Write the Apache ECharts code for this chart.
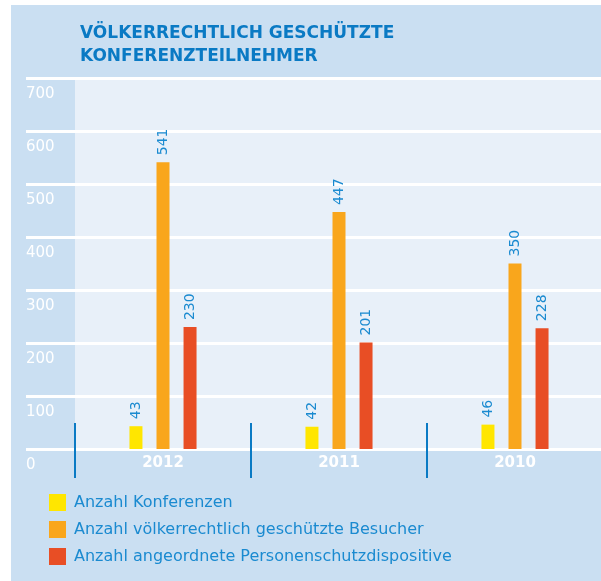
<!DOCTYPE html>
<html>
<head>
<meta charset="utf-8">
<script src="https://cdn.jsdelivr.net/npm/echarts@6/dist/echarts.min.js"></script>
<style>
  html, body { margin: 0; padding: 0; background: #fff; }
  #chart { width: 601px; height: 581px; }
</style>
</head>
<body>
<div id="chart"></div>
<script>
const years = ['2012', '2011', '2010']
const konferenzen = [43, 42, 46]
const besucher = [541, 447, 350]
const dispositive = [230, 201, 228]
const seriesNames = [
  'Anzahl Konferenzen',
  'Anzahl völkerrechtlich geschützte Besucher',
  'Anzahl angeordnete Personenschutzdispositive'
]
const yMin = 0
const yMax = 700
const yStep = 100

const FONT = 'DejaVu Sans'
const BLUE = '#0a7ac4'
const TEXT_BLUE = '#1a8ad0'

const chart = echarts.init(document.getElementById('chart'))

const barLabel = {
  show: true,
  position: 'top',
  rotate: 90,
  align: 'left',
  verticalAlign: 'middle',
  distance: 7,
  color: TEXT_BLUE,
  fontSize: 14,
  fontFamily: FONT
}

const makeBar = (name, data, color) => ({
  name,
  type: 'bar',
  xAxisIndex: 1,
  yAxisIndex: 1,
  data,
  barWidth: 13,
  barGap: '108%',
  itemStyle: { color },
  label: barLabel
})

const option = {
  backgroundColor: '#ffffff',
  animation: false,
  title: {
    text: 'VÖLKERRECHTLICH GESCHÜTZTE\nKONFERENZTEILNEHMER',
    left: 75,
    top: 17,
    textStyle: {
      fontFamily: FONT,
      fontSize: 17,
      fontWeight: 'bold',
      color: BLUE,
      lineHeight: 23
    }
  },
  // panel backgrounds
  graphic: [
    { type: 'rect', z: -2, shape: { x: 11, y: 5, width: 590, height: 576 }, style: { fill: '#cadff2' } },
    { type: 'rect', z: -1, shape: { x: 75, y: 78, width: 526, height: 371 }, style: { fill: '#e8f0f9' } }
  ],
  legend: {
    orient: 'vertical',
    left: 49,
    top: 494,
    padding: 0,
    icon: 'rect',
    itemWidth: 17,
    itemHeight: 17,
    itemGap: 10,
    textStyle: {
      color: TEXT_BLUE,
      fontSize: 16,
      fontFamily: FONT,
      padding: [0, 0, 0, 3]
    },
    data: seriesNames
  },
  grid: [
    { left: 26, right: 0, top: 78, bottom: 132, outerBoundsMode: 'none' },
    // axis runs a bit past the right edge so its last boundary tick stays hidden
    { left: 75, width: 528, top: 78, bottom: 132, outerBoundsMode: 'none' }
  ],
  xAxis: [
    { type: 'value', gridIndex: 0, show: false },
    {
      type: 'category',
      gridIndex: 1,
      data: years,
      offset: -26,
      axisLine: { show: false },
      axisTick: { show: true, length: 55, lineStyle: { color: BLUE, width: 2 } },
      axisLabel: {
        color: '#ffffff',
        fontSize: 15,
        fontWeight: 'bold',
        fontFamily: FONT,
        margin: 33
      }
    }
  ],
  yAxis: [
    {
      type: 'value',
      gridIndex: 0,
      min: yMin,
      max: yMax,
      interval: yStep,
      axisLine: { show: false },
      axisTick: { show: false },
      splitLine: { show: true, lineStyle: { color: '#ffffff', width: 3 } },
      axisLabel: {
        color: '#ffffff',
        fontSize: 15,
        fontFamily: FONT,
        align: 'left',
        verticalAlign: 'top',
        margin: 0,
        padding: [9, 0, 0, 0]
      }
    },
    { type: 'value', gridIndex: 1, min: yMin, max: yMax, interval: yStep, show: false }
  ],
  series: [
    makeBar(seriesNames[0], konferenzen, '#ffe600'),
    makeBar(seriesNames[1], besucher, '#f9a61c'),
    makeBar(seriesNames[2], dispositive, '#e84e25')
  ]
}

chart.setOption(option)
</script>
</body>
</html>
